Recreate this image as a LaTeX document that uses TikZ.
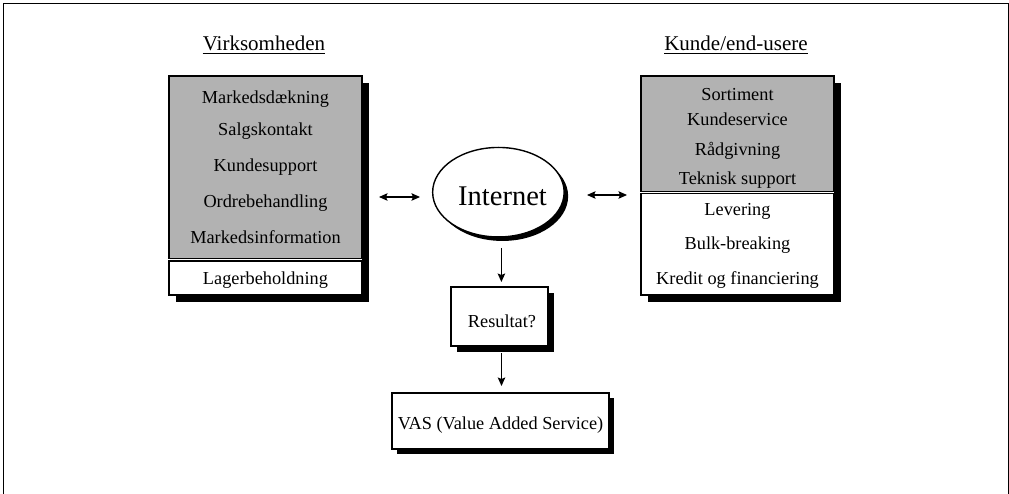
\documentclass[tikz,border=0pt]{standalone}
\usepackage{fontspec}
\setmainfont{Liberation Serif}
\usetikzlibrary{shapes.geometric,arrows.meta,shadows}
\definecolor{boxgray}{RGB}{178,178,178}
\begin{document}
\begin{tikzpicture}[x=1pt,y=-1pt,
  blk/.style={draw=black, line width=1.2pt, inner sep=0pt, outer sep=0pt, rectangle},
  bodytxt/.style={font=\fontsize{18.3pt}{20pt}\selectfont, anchor=base, inner sep=0pt},
  titletxt/.style={font=\fontsize{21pt}{24pt}\selectfont, anchor=base, inner sep=0pt},
  arr/.style={line width=1.2pt, -{Stealth[length=8.5pt,width=7.5pt,inset=1.5pt]}},
  darr/.style={line width=1.2pt, {Stealth[length=8.5pt,width=7.5pt,inset=1.5pt]}-{Stealth[length=8.5pt,width=7.5pt,inset=1.5pt]}},
  shad/.style={drop shadow={shadow xshift=#1, shadow yshift=-#1, fill=black, opacity=1}}
]
\useasboundingbox (0,0) rectangle (1009,494);
% frame
\draw[line width=1.3pt] (3.8,500) -- (3.8,3.8) -- (1008.2,3.8) -- (1008.2,500);

% titles
\node[titletxt] (tl) at (264,50.5) {Virksomheden};
\draw[line width=1.2pt] ([yshift=-3pt]tl.base west) -- ([yshift=-3pt]tl.base east);
\node[titletxt] (tr) at (736,50.5) {Kunde/end-usere};
\draw[line width=1.2pt] ([yshift=-3pt]tr.base west) -- ([yshift=-3pt]tr.base east);

% left composite box
\fill[black] (176,83) rectangle (369,302);
\fill[white] (169,76) rectangle (362,295);
\node[blk, fill=boxgray, anchor=north west, minimum width=193pt, minimum height=182.5pt] (lg) at (169,76) {};
\node[blk, fill=white, anchor=north west, minimum width=193pt, minimum height=34pt] (lw) at (169,261) {};
\node[bodytxt] (l1) at (265.5,103.3) {Markedsdækning};
\node[bodytxt] (l2) at (265.5,135.5) {Salgskontakt};
\node[bodytxt] (l3) at (265.5,171.7) {Kundesupport};
\node[bodytxt] (l4) at (265.5,207.7) {Ordrebehandling};
\node[bodytxt] (l5) at (265.5,244) {Markedsinformation};
\node[bodytxt] (l6) at (265.5,284) {Lagerbeholdning};

% right composite box
\fill[black] (648,83) rectangle (841,302);
\fill[white] (641,76) rectangle (834,295);
\node[blk, fill=boxgray, anchor=north west, minimum width=193pt, minimum height=115.5pt] (rg) at (641,76) {};
\node[blk, fill=white, anchor=north west, minimum width=193pt, minimum height=101.5pt] (rw) at (641,193.5) {};
\node[bodytxt] (r1) at (737.5,101) {Sortiment};
\node[bodytxt] (r2) at (737.5,126) {Kundeservice};
\node[bodytxt] (r3) at (737.5,155.5) {Rådgivning};
\node[bodytxt] (r4) at (737.5,185) {Teknisk support};
\node[bodytxt] (r5) at (737.5,216) {Levering};
\node[bodytxt] (r6) at (737.5,250) {Bulk-breaking};
\node[bodytxt] (r7) at (737.5,285) {Kredit og financiering};

% Internet ellipse
\node[ellipse, draw=black, line width=1.4pt, fill=white, inner sep=0pt, outer sep=0pt,
      minimum width=131.5pt, minimum height=89.5pt, shad=4pt] (ie) at (498.4,192.2) {};
\node[font=\fontsize{28.5pt}{30pt}\selectfont, anchor=base, inner sep=0pt] (iet) at (502.5,206) {Internet};

% Resultat box
\node[blk, fill=white, minimum width=97pt, minimum height=59pt, shad=6pt] (res) at (499.5,316.5) {};
\node[bodytxt] (rest) at (502,327) {Resultat?};

% VAS box
\node[blk, fill=white, minimum width=217pt, minimum height=56pt, shad=4.5pt] (vas) at (500.5,421) {};
\node[bodytxt] (vast) at (500.5,429) {VAS (Value Added Service)};

% arrows
\coordinate (la1) at (379,197);
\coordinate (la2) at (420,197);
\coordinate (ra1) at (587,195);
\coordinate (ra2) at (627,195);
\draw[darr] (la1) -- (la2);
\draw[darr] (ra1) -- (ra2);
\draw[arr, shorten <=11pt, shorten >=5pt] ([xshift=3pt]ie.south) -- ([xshift=3pt]ie.south |- res.north);
\draw[arr, shorten <=7pt, shorten >=7pt] ([xshift=2pt]res.south) -- ([xshift=2pt]res.south |- vas.north);
\end{tikzpicture}
\end{document}
